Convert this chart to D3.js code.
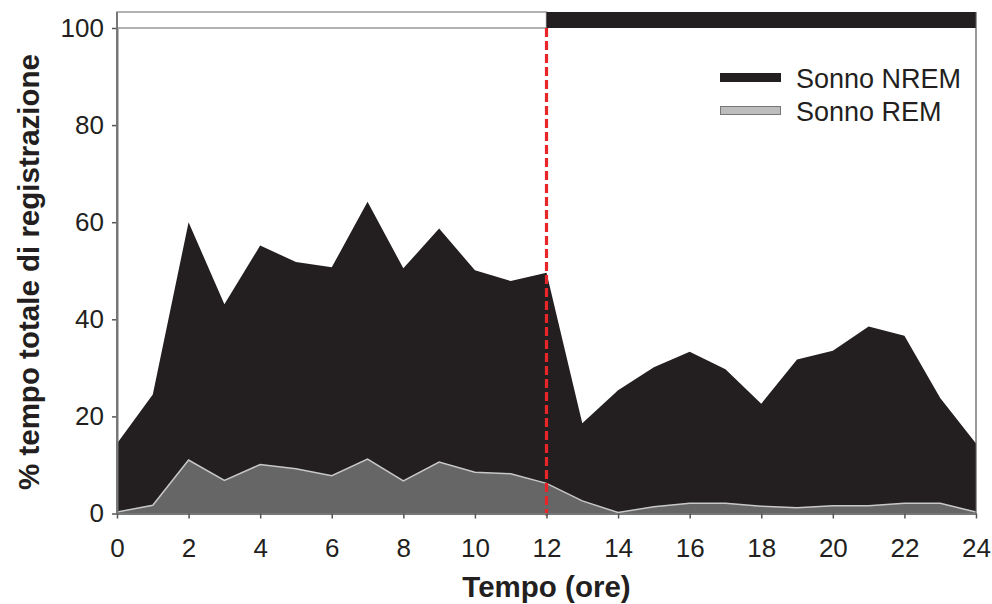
<!DOCTYPE html>
<html><head><meta charset="utf-8">
<script src="https://cdn.jsdelivr.net/npm/d3@7"></script>
<style>body{margin:0;background:#fff}svg{display:block}text{font-family:"Liberation Sans",Arial,sans-serif}</style>
</head><body><svg id="c" width="992" height="604"></svg>
<script>
const hours = d3.range(0, 25);
const nremTotal = [14.4,24.5,60,43.1,55.2,51.8,50.7,64.2,50.5,58.7,50.1,47.9,49.6,18.6,25.4,30.1,33.3,29.7,22.6,31.7,33.5,38.5,36.6,23.8,14.4];
const rem = [0.3,1.7,11,6.8,10.1,9.2,7.8,11.2,6.7,10.6,8.5,8.2,6.2,2.6,0.2,1.4,2.1,2.1,1.5,1.2,1.6,1.6,2.1,2.1,0.3];
const xTicks = d3.range(0, 25, 2);
const yTicks = [0,20,40,60,80,100];
const lightOffHour = 12;
const legendLabels = ["Sonno NREM","Sonno REM"];

const svg = d3.select("#c");
const L=117, R=976, T=28, B=513.5, TOP=12;
const x = d3.scaleLinear().domain([0,24]).range([L,R]);
const y = d3.scaleLinear().domain([0,100]).range([B,T]);

const data = hours.map((h,i)=>({h, tot:nremTotal[i], rem:rem[i]}));

svg.append("defs").append("clipPath").attr("id","cp").append("rect")
  .attr("x",L).attr("y",T).attr("width",R-L).attr("height",B-T);
const g = svg.append("g").attr("clip-path","url(#cp)");

g.append("path").datum(data).attr("fill","#231f20")
  .attr("d", d3.area().x(d=>x(d.h)).y0(y(0)).y1(d=>y(d.tot)));
g.append("path").datum(data).attr("fill","#666666")
  .attr("d", d3.area().x(d=>x(d.h)).y0(y(0)).y1(d=>y(d.rem)));
g.append("path").datum(data).attr("fill","none").attr("stroke","#c8c8c8").attr("stroke-width",1.5)
  .attr("d", d3.line().x(d=>x(d.h)).y(d=>y(d.rem)));

// light/dark bar
svg.append("rect").attr("x",L).attr("y",TOP).attr("width",x(lightOffHour)-L).attr("height",T-TOP)
  .attr("fill","#fff").attr("stroke","#999").attr("stroke-width",1.5);
svg.append("rect").attr("x",x(lightOffHour)).attr("y",TOP).attr("width",R-x(lightOffHour)).attr("height",T-TOP)
  .attr("fill","#231f20");

// frame right
svg.append("line").attr("x1",R).attr("x2",R).attr("y1",TOP).attr("y2",B).attr("stroke","#555").attr("stroke-width",1.2);

// red dashed line
svg.append("line").attr("x1",x(lightOffHour)).attr("x2",x(lightOffHour)).attr("y1",T).attr("y2",B+2)
  .attr("stroke","#e8262a").attr("stroke-width",3.2).attr("stroke-dasharray","9,4");

// axes
const xa = svg.append("g").attr("transform",`translate(0,${B})`)
  .call(d3.axisBottom(x).tickValues(xTicks).tickSize(5).tickSizeOuter(0).tickPadding(20));
const ya = svg.append("g").attr("transform",`translate(${L},0)`)
  .call(d3.axisLeft(y).tickValues(yTicks).tickSize(5).tickSizeOuter(0).tickPadding(8));
[xa,ya].forEach(a=>{
  a.attr("font-size",null).attr("font-family",null);
  a.select(".domain").attr("stroke","#777").attr("stroke-width",2);
  a.selectAll(".tick line").attr("stroke","#555").attr("stroke-width",1.5);
  a.selectAll(".tick text").attr("fill","#231f20").style("font-size","26px");
});
svg.append("line").attr("x1",L).attr("x2",L).attr("y1",TOP).attr("y2",B).attr("stroke","#777").attr("stroke-width",2);

// titles
svg.append("text").attr("x",(L+R)/2).attr("y",597).attr("text-anchor","middle")
  .style("font-size","29.5px").style("font-weight","bold").attr("fill","#231f20").text("Tempo (ore)");
svg.append("text").attr("transform",`translate(39,272) rotate(-90)`).attr("text-anchor","middle")
  .style("font-size","29.5px").style("font-weight","bold").attr("fill","#231f20").text("% tempo totale di registrazione");

// legend
const lg = svg.append("g");
lg.append("rect").attr("x",720).attr("y",73).attr("width",61).attr("height",9).attr("fill","#231f20");
lg.append("rect").attr("x",720.5).attr("y",106.5).attr("width",60).attr("height",8).attr("fill","#bdbdbd").attr("stroke","#777").attr("stroke-width",1);
lg.append("text").attr("x",796).attr("y",88).style("font-size","27px").attr("fill","#231f20").text(legendLabels[0]);
lg.append("text").attr("x",796).attr("y",121).style("font-size","27px").attr("fill","#231f20").text(legendLabels[1]);
</script></body></html>
